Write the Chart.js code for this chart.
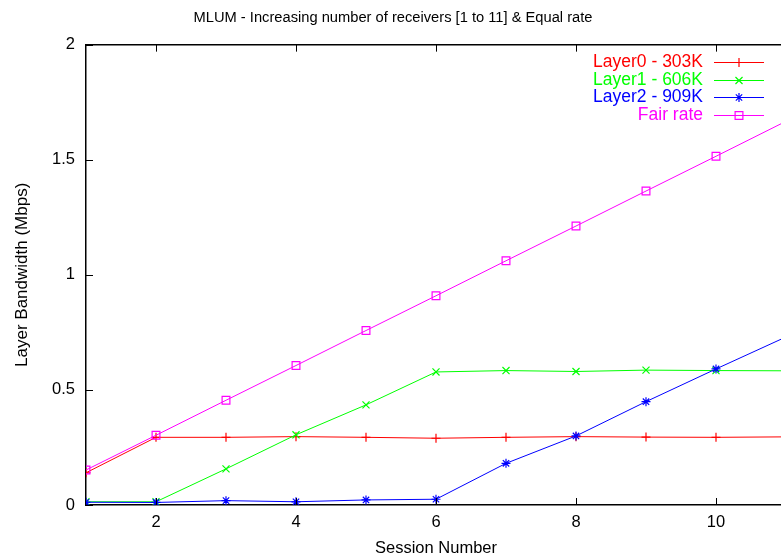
<!DOCTYPE html>
<html>
<head>
<meta charset="utf-8">
<script src="https://cdn.jsdelivr.net/npm/chart.js@4.4.1/dist/chart.umd.min.js"></script>
<style>
html, body { margin: 0; padding: 0; background: #fff; overflow: hidden; }
#wrap { position: relative; width: 800px; height: 559px; }
</style>
</head>
<body>
<div id="wrap"><canvas id="chart" width="800" height="559"></canvas></div>
<script>
// session numbers 1..11 and bandwidth per layer (Mbps)
const sessions = [1, 2, 3, 4, 5, 6, 7, 8, 9, 10, 11];
const layer0 = [0.140, 0.294, 0.294, 0.297, 0.294, 0.290, 0.294, 0.297, 0.295, 0.294, 0.296];
const layer1 = [0.014, 0.014, 0.157, 0.305, 0.435, 0.578, 0.584, 0.580, 0.586, 0.584, 0.583];
const layer2 = [0.012, 0.011, 0.019, 0.014, 0.022, 0.025, 0.181, 0.300, 0.449, 0.591, 0.730];
const fairRate = [0.152, 0.303, 0.455, 0.606, 0.758, 0.909, 1.061, 1.212, 1.364, 1.515, 1.667];

const seriesLabels = ['Layer0 - 303K', 'Layer1 - 606K', 'Layer2 - 909K', 'Fair rate'];
const xTickValues = [2, 4, 6, 8, 10];
const yTickValues = [0, 0.5, 1, 1.5, 2];

const FONT = "'Liberation Sans', Arial, Helvetica, sans-serif";

function toPoints(values) {
    return sessions.map((s, i) => ({ x: s, y: values[i] }));
}

function makeSet(label, values, color, style, radius, order) {
    return {
        label: label,
        data: toPoints(values),
        borderColor: color,
        backgroundColor: 'rgba(0,0,0,0)',
        pointBorderColor: color,
        pointBackgroundColor: 'rgba(0,0,0,0)',
        borderWidth: 1,
        pointBorderWidth: 1.2,
        pointStyle: style,
        pointRadius: radius,
        tension: 0,
        fill: false,
        order: order
    };
}

// gnuplot look: inner tick marks, top border, legend with sample lines on the right
const gnuplotFrame = {
    id: 'gnuplotFrame',
    afterDraw(chart) {
        const ctx = chart.ctx;
        const area = chart.chartArea;
        const xs = chart.scales.x;
        const ys = chart.scales.y;
        const len = 7;

        ctx.save();
        ctx.strokeStyle = '#000';
        ctx.lineWidth = 1.5;
        ctx.beginPath();
        ctx.moveTo(area.left, area.top);
        ctx.lineTo(area.right, area.top);
        ctx.stroke();

        ctx.lineWidth = 1;
        ctx.beginPath();
        xTickValues.forEach(v => {
            const px = Math.round(xs.getPixelForValue(v)) + 0.5;
            ctx.moveTo(px, area.bottom);
            ctx.lineTo(px, area.bottom - len);
            ctx.moveTo(px, area.top);
            ctx.lineTo(px, area.top + len);
        });
        yTickValues.forEach(v => {
            const py = Math.round(ys.getPixelForValue(v)) + 0.5;
            ctx.moveTo(area.left, py);
            ctx.lineTo(area.left + len, py);
        });
        ctx.stroke();

        // legend
        ctx.font = '17.5px ' + FONT;
        ctx.textAlign = 'right';
        ctx.textBaseline = 'middle';
        chart.data.datasets.forEach((ds, i) => {
            const y = Math.round(62 + i * 17.7) + 0.5;
            ctx.fillStyle = ds.borderColor;
            ctx.fillText(ds.label, 703, y);
            ctx.strokeStyle = ds.borderColor;
            ctx.lineWidth = 1;
            ctx.beginPath();
            ctx.moveTo(714, y);
            ctx.lineTo(764, y);
            ctx.stroke();
            ctx.fillStyle = 'rgba(0,0,0,0)';
            ctx.lineWidth = 1.2;
            Chart.helpers.drawPoint(ctx, {
                pointStyle: ds.pointStyle,
                radius: ds.pointRadius,
                borderWidth: 1.2,
                rotation: 0
            }, 739, y);
        });
        ctx.restore();
    }
};

const ctx = document.getElementById('chart').getContext('2d');
new Chart(ctx, {
    type: 'line',
    data: {
        datasets: [
            makeSet(seriesLabels[0], layer0, '#ff0000', 'cross', 4.5, 4),
            makeSet(seriesLabels[1], layer1, '#00ff00', 'crossRot', 5, 3),
            makeSet(seriesLabels[2], layer2, '#0000ff', 'star', 4.5, 2),
            makeSet(seriesLabels[3], fairRate, '#ff00ff', 'rect', 5.5, 1)
        ]
    },
    options: {
        responsive: false,
        animation: false,
        devicePixelRatio: 1,
        layout: { padding: { left: 0, right: 14, top: 0, bottom: 0 } },
        plugins: {
            legend: { display: false },
            tooltip: { enabled: false },
            title: {
                display: true,
                text: 'MLUM - Increasing number of receivers [1 to 11] & Equal rate',
                color: '#000',
                font: { family: FONT, size: 14.7, weight: 'normal' },
                padding: { top: 9, bottom: 18 }
            }
        },
        scales: {
            x: {
                type: 'linear',
                min: 1,
                max: 11,
                afterBuildTicks: (scale) => {
                    scale.ticks = xTickValues.map(v => ({ value: v }));
                },
                afterFit: (scale) => { scale.height = 54; },
                grid: { display: false, drawTicks: false },
                border: { display: true, color: '#000', width: 1.5 },
                ticks: {
                    color: '#000',
                    padding: 8,
                    maxRotation: 0,
                    font: { family: FONT, size: 16.5 }
                },
                title: {
                    display: true,
                    text: 'Session Number',
                    color: '#000',
                    font: { family: FONT, size: 16.5 },
                    padding: { top: 0, bottom: 1 }
                }
            },
            y: {
                min: 0,
                max: 2,
                afterBuildTicks: (scale) => {
                    scale.ticks = yTickValues.map(v => ({ value: v }));
                },
                afterFit: (scale) => { scale.width = 86; },
                grid: { display: false, drawTicks: false },
                border: { display: true, color: '#000', width: 1.5 },
                ticks: {
                    color: '#000',
                    padding: 11,
                    font: { family: FONT, size: 16.5 },
                    callback: (v) => String(v)
                },
                title: {
                    display: true,
                    text: 'Layer Bandwidth (Mbps)',
                    color: '#000',
                    font: { family: FONT, size: 17 },
                    padding: { top: 12, bottom: 0 }
                }
            }
        }
    },
    plugins: [gnuplotFrame]
});
</script>
</body>
</html>
